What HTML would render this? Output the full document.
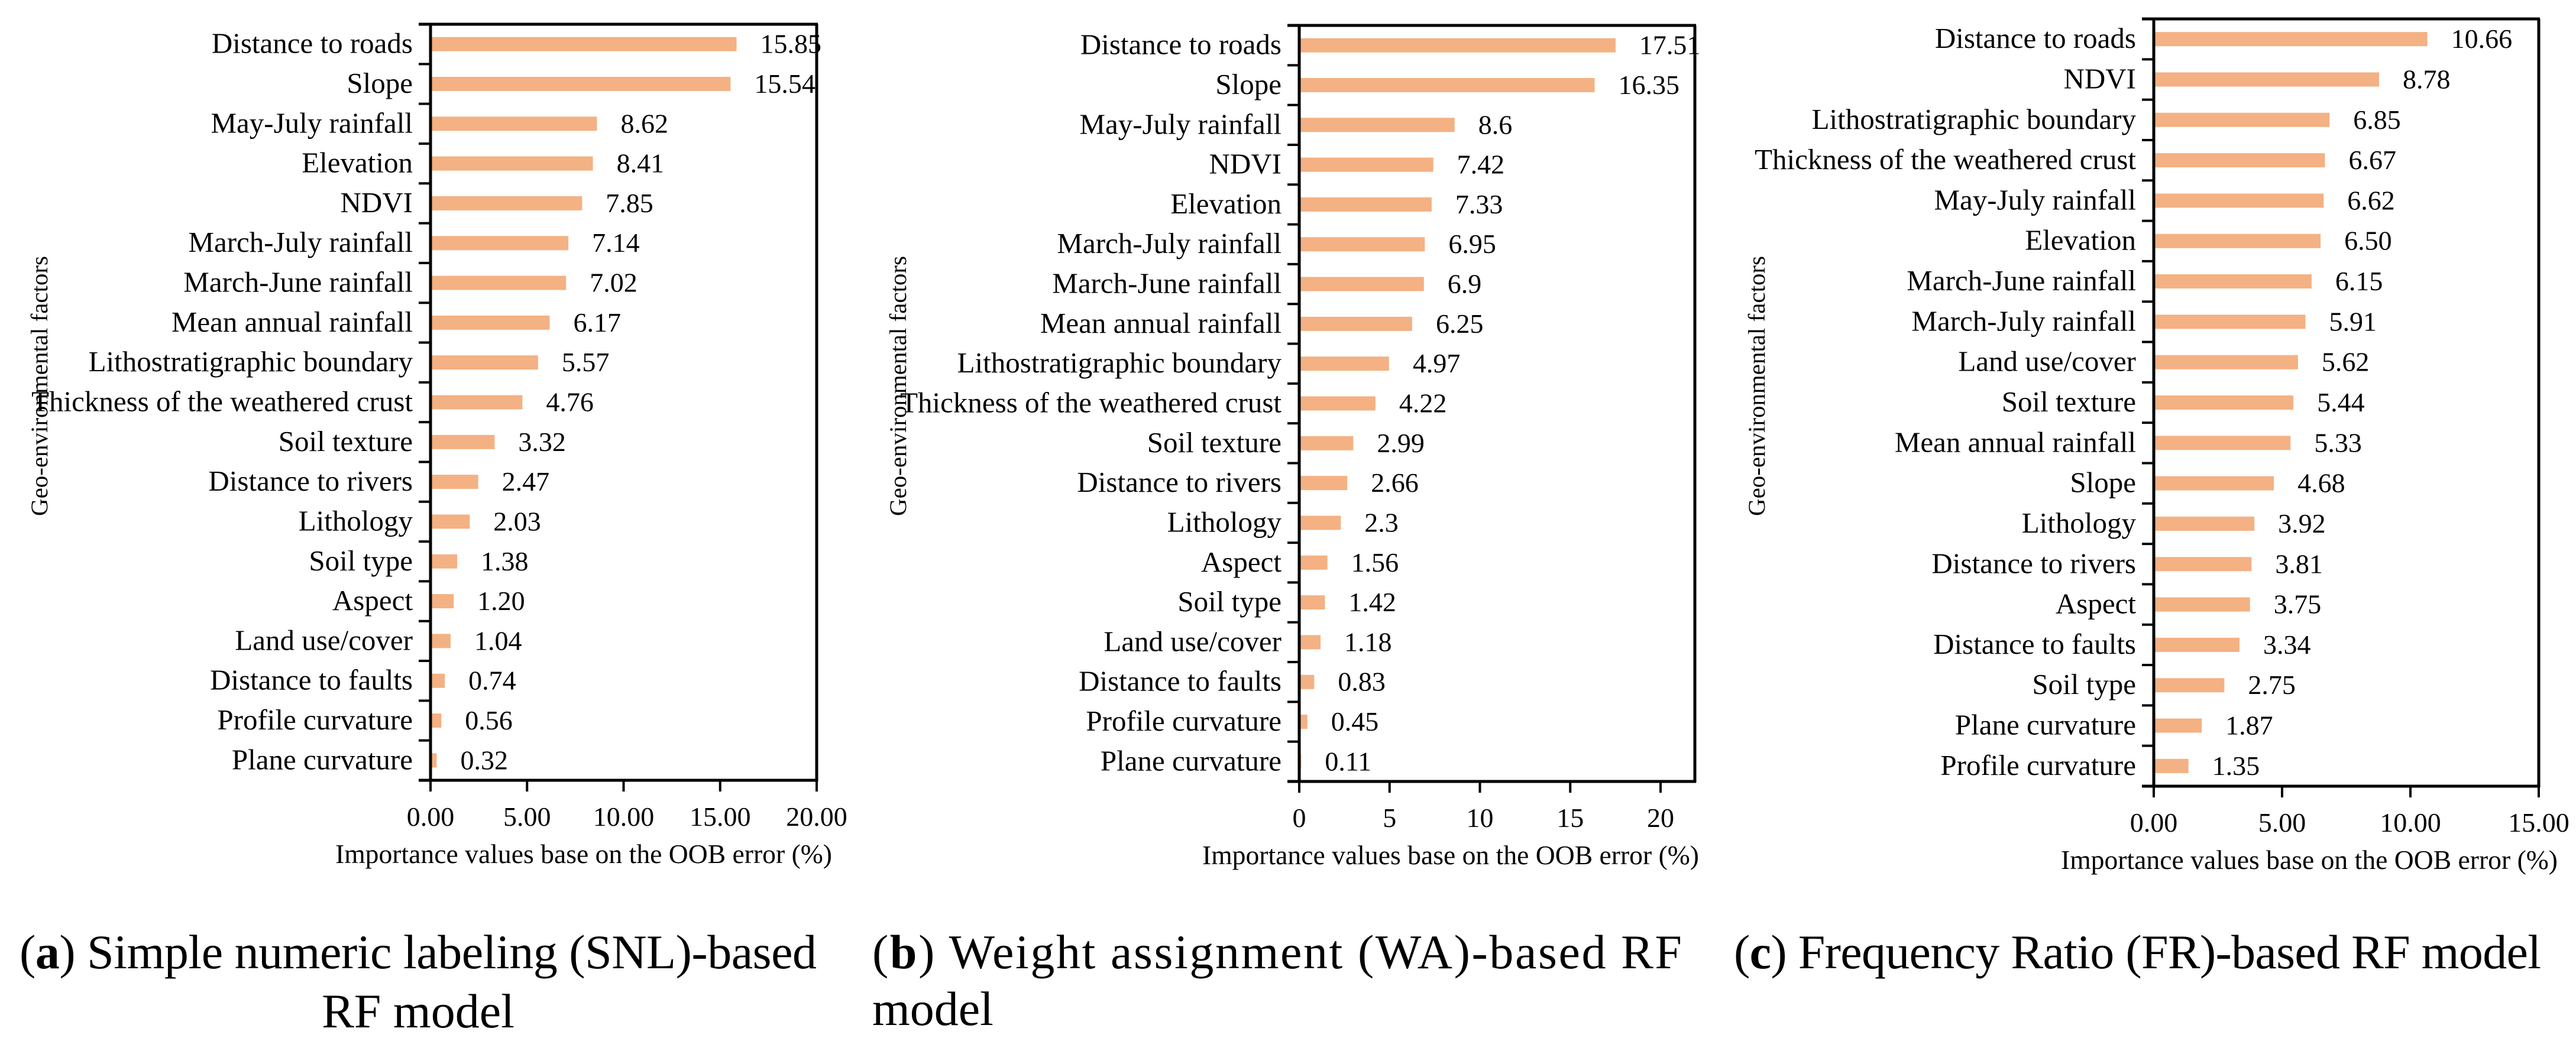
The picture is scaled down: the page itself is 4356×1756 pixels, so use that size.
<!DOCTYPE html>
<html><head><meta charset="utf-8"><style>
html,body{margin:0;padding:0;background:#fff;}
svg{display:block;}
svg text{font-family:"Liberation Serif","DejaVu Serif",serif;}
</style></head><body>
<svg id="fig" width="4356" height="1756" viewBox="0 0 4356 1756" xmlns="http://www.w3.org/2000/svg" font-family="Liberation Serif, serif"></svg>
<script>
const catsA=["Distance to roads","Slope","May-July rainfall","Elevation","NDVI","March-July rainfall","March-June rainfall","Mean annual rainfall","Lithostratigraphic boundary","Thickness of the weathered crust","Soil texture","Distance to rivers","Lithology","Soil type","Aspect","Land use/cover","Distance to faults","Profile curvature","Plane curvature"];
const valsA=[15.85,15.54,8.62,8.41,7.85,7.14,7.02,6.17,5.57,4.76,3.32,2.47,2.03,1.38,1.20,1.04,0.74,0.56,0.32];
const labelsA=["15.85","15.54","8.62","8.41","7.85","7.14","7.02","6.17","5.57","4.76","3.32","2.47","2.03","1.38","1.20","1.04","0.74","0.56","0.32"];
const ticksA=[0,5,10,15,20];
const tickLabelsA=["0.00","5.00","10.00","15.00","20.00"];

const catsB=["Distance to roads","Slope","May-July rainfall","NDVI","Elevation","March-July rainfall","March-June rainfall","Mean annual rainfall","Lithostratigraphic boundary","Thickness of the weathered crust","Soil texture","Distance to rivers","Lithology","Aspect","Soil type","Land use/cover","Distance to faults","Profile curvature","Plane curvature"];
const valsB=[17.51,16.35,8.6,7.42,7.33,6.95,6.9,6.25,4.97,4.22,2.99,2.66,2.3,1.56,1.42,1.18,0.83,0.45,0.11];
const labelsB=["17.51","16.35","8.6","7.42","7.33","6.95","6.9","6.25","4.97","4.22","2.99","2.66","2.3","1.56","1.42","1.18","0.83","0.45","0.11"];
const ticksB=[0,5,10,15,20];
const tickLabelsB=["0","5","10","15","20"];

const catsC=["Distance to roads","NDVI","Lithostratigraphic boundary","Thickness of the weathered crust","May-July rainfall","Elevation","March-June rainfall","March-July rainfall","Land use/cover","Soil texture","Mean annual rainfall","Slope","Lithology","Distance to rivers","Aspect","Distance to faults","Soil type","Plane curvature","Profile curvature"];
const valsC=[10.66,8.78,6.85,6.67,6.62,6.50,6.15,5.91,5.62,5.44,5.33,4.68,3.92,3.81,3.75,3.34,2.75,1.87,1.35];
const labelsC=["10.66","8.78","6.85","6.67","6.62","6.50","6.15","5.91","5.62","5.44","5.33","4.68","3.92","3.81","3.75","3.34","2.75","1.87","1.35"];
const ticksC=[0,5,10,15];
const tickLabelsC=["0.00","5.00","10.00","15.00"];

const NS="http://www.w3.org/2000/svg";
const FF='"Liberation Serif", "DejaVu Serif", serif';
const svg=document.getElementById('fig');
function mk(tag,attrs,parent){const e=document.createElementNS(NS,tag);for(const k in attrs)e.setAttribute(k,attrs[k]);if(tag==='text'){e.setAttribute('font-family',FF);e.style.fontFamily=FF;}(parent||svg).appendChild(e);return e;}

function panel(cfg){
  const g=mk('g',{});
  
  
  const n=cfg.cats.length;
  const band=(cfg.bottom-cfg.top)/n;
  const xs=v=>cfg.x0+(v-0)/(cfg.xmax)*(cfg.x1-cfg.x0);
  const yc=i=>cfg.top+band*(i+0.5);
  cfg.vals.forEach((v,i)=>{
    const r=mk('rect',{x:xs(0),y:yc(i)-12,width:Math.max(0,xs(v)-xs(0)),height:24,fill:'#F4B183'},g);
    
    
    const t=mk('text',{x:xs(v)+40,y:yc(i)+15,'font-size':46,fill:'#000'},g);
    t.textContent=cfg.labels[i];
    
    
    const c=mk('text',{x:cfg.x0-30,y:yc(i)+15,'font-size':49,'text-anchor':'end',fill:'#000'},g);
    c.textContent=cfg.cats[i];
    
    
  });
  for(let i=0;i<=n;i++){
    const y=cfg.top+band*i;
    const l=mk('line',{x1:cfg.x0-20,x2:cfg.x0,y1:y,y2:y,stroke:'#000','stroke-width':4},g);
    
    
  }
  const ya=mk('line',{x1:cfg.x0,x2:cfg.x0,y1:cfg.top,y2:cfg.bottom+2,stroke:'#000','stroke-width':5},g);
  
  
  const rb=mk('line',{x1:cfg.xr,x2:cfg.xr,y1:cfg.top,y2:cfg.bottom+2,stroke:'#000','stroke-width':5},g);
  
  
  const tb=mk('line',{x1:cfg.x0-20,x2:cfg.xr+2,y1:cfg.top,y2:cfg.top,stroke:'#000','stroke-width':5},g);
  
  
  const xa=mk('line',{x1:cfg.x0-20,x2:cfg.xr+2,y1:cfg.bottom,y2:cfg.bottom,stroke:'#000','stroke-width':5},g);
  
  
  cfg.ticks.forEach((v,i)=>{
    const l=mk('line',{x1:xs(v),x2:xs(v),y1:cfg.bottom,y2:cfg.bottom+19,stroke:'#000','stroke-width':4},g);
    
    
    const t=mk('text',{x:xs(v),y:cfg.bottom+77,'font-size':46,'text-anchor':'middle',fill:'#000'},g);
    t.textContent=cfg.tickLabels[i];
    
    
  });
  const xt=mk('text',{x:cfg.titleX,y:cfg.bottom+140,'font-size':46,textLength:840,lengthAdjust:'spacingAndGlyphs',fill:'#000'},g);
  xt.textContent='Importance values base on the OOB error (%)';
  
  
  const yt=mk('text',{x:0,y:0,'font-size':40,'text-anchor':'middle',textLength:440,lengthAdjust:'spacingAndGlyphs',fill:'#000',transform:`translate(${cfg.ytX},${cfg.ytY}) rotate(-90)`},g);
  yt.textContent='Geo-environmental factors';
  
  
}

panel({name:'chart-snl',cats:catsA,vals:valsA,labels:labelsA,ticks:ticksA,tickLabels:tickLabelsA,x0:728,x1:1381,xr:1381,xmax:20,top:41,bottom:1320,titleX:567,ytX:80,ytY:653});
panel({name:'chart-wa',cats:catsB,vals:valsB,labels:labelsB,ticks:ticksB,tickLabels:tickLabelsB,x0:2197,x1:2808,xr:2866,xmax:20,top:43,bottom:1322,titleX:2033,ytX:80+1452,ytY:653});
panel({name:'chart-fr',cats:catsC,vals:valsC,labels:labelsC,ticks:ticksC,tickLabels:tickLabelsC,x0:3642,x1:4293,xr:4293,xmax:15,top:32,bottom:1330,titleX:3485,ytX:80+2904,ytY:653});

function caption(name,x,y,bold,rest,len){
  const t=mk('text',{x:x,y:y,'font-size':82,fill:'#000',textLength:len,lengthAdjust:'spacing'});
  
  
  const a=mk('tspan',{},t);a.textContent='(';
  const b=mk('tspan',{'font-weight':'bold'},t);b.textContent=bold;
  const c=mk('tspan',{},t);c.textContent=')'+rest;
  return t;
}
caption('caption-a',33,1638,'a',' Simple numeric labeling (SNL)-based',1348);
const a2=mk('text',{x:707,y:1738,'font-size':82,'text-anchor':'middle',fill:'#000'});
a2.textContent='RF model';


caption('caption-b',1475,1638,'b',' Weight assignment (WA)-based RF',1369);
const b2=mk('text',{x:1475,y:1734,'font-size':82,fill:'#000'});
b2.textContent='model';


caption('caption-c',2932,1638,'c',' Frequency Ratio (FR)-based RF model',1365);
</script>
</body></html>
